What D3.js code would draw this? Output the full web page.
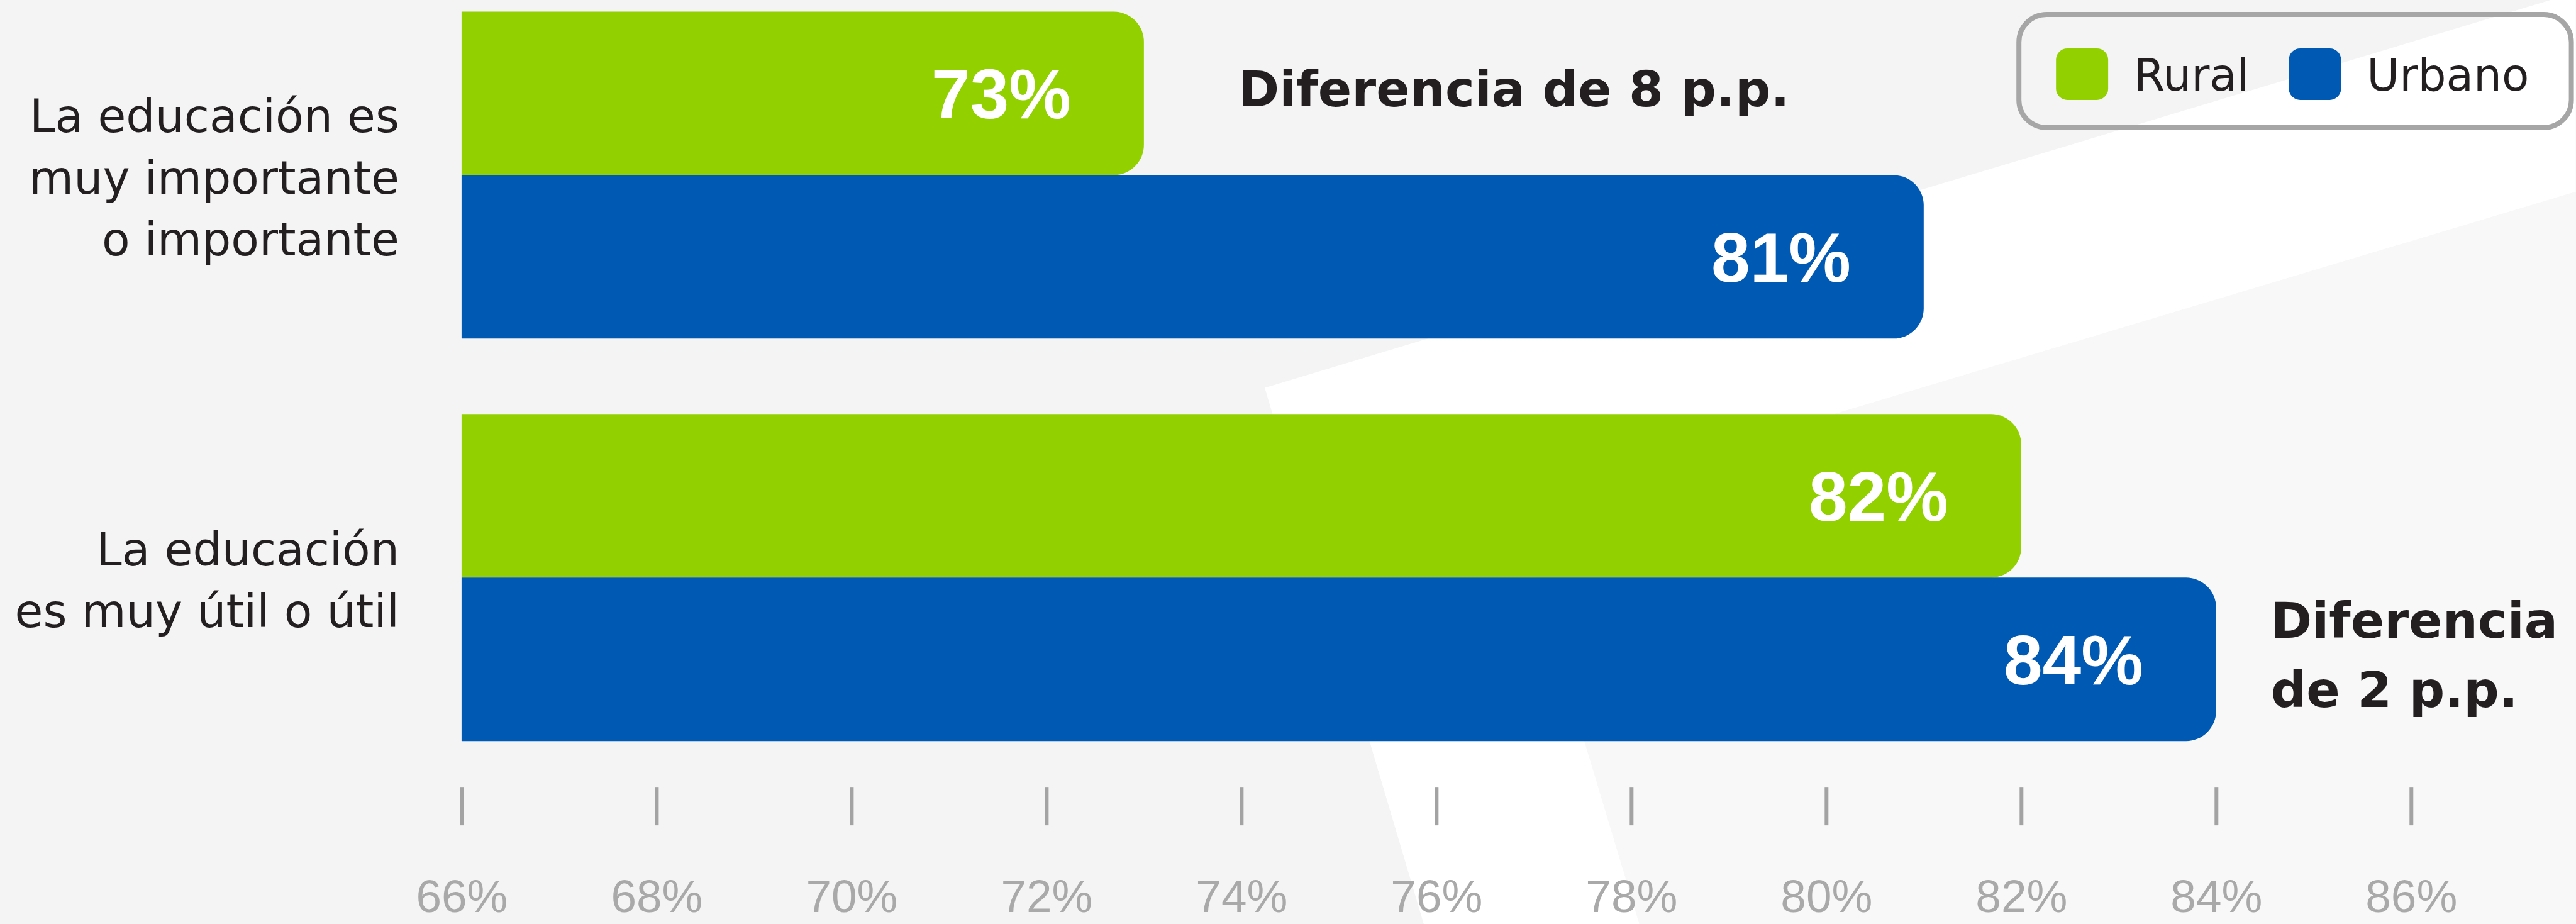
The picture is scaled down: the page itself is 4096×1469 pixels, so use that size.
<!DOCTYPE html>
<html>
<head>
<meta charset="utf-8">
<script src="https://cdn.jsdelivr.net/npm/d3@7"></script>
<style>
  html, body { margin: 0; padding: 0; background: #f4f4f4; overflow: hidden; }
  svg { display: block; }
</style>
</head>
<body>
<div id="chart"></div>
<script>
// data
const categories = ["La educación es muy importante o importante", "La educación es muy útil o útil"];
const labelLines = [
  ["La educación es", "muy importante", "o importante"],
  ["La educación", "es muy útil o útil"]
];
const seriesNames = ["Rural", "Urbano"];
const rural = [73, 82];
const urbano = [81, 84];
const tickValues = [66, 68, 70, 72, 74, 76, 78, 80, 82, 84, 86];
const notes = [["Diferencia de 8 p.p."], ["Diferencia", "de 2 p.p."]];
const noteSeries = ["Rural", "Urbano"];

const colors = { Rural: "#92d000", Urbano: "#0059b2" };
const ink = "#231f20";

// reference size, drawn at 0.999 through the viewBox
const W = 4098, H = 1470;

let svg = d3.select("#chart").append("svg")
    .attr("width", 4096)
    .attr("height", 1469)
    .attr("viewBox", "0 0 " + W + " " + H);

// background with the light band
svg.append("rect").attr("width", W).attr("height", H).attr("fill", "#f4f4f4");
svg.append("path")
    .attr("d", "M2410,811 L4098,305 L4098,1470 L2608,1470 Z")
    .attr("fill", "#f8f8f8");
svg.append("path")
    .attr("d", "M4058,0 L4098,0 L4098,305 L2410,811 L2608,1470 L2265,1470 L2012,617 Z")
    .attr("fill", "#ffffff");

// scales
let x = d3.scaleLinear().domain([66, 86]).range([734, 3836]);
let y = d3.scaleBand().domain(categories).range([18.5, 1179]).paddingInner(0.1875);
let ySub = d3.scaleBand().domain(seriesNames).range([0, y.bandwidth()]);

let rows = categories.map((c, i) => ({
  cat: c, lines: labelLines[i],
  values: [{ key: "Rural", v: rural[i] }, { key: "Urbano", v: urbano[i] }]
}));

function barPath(x0, y0, x1, y1, r) {
  return "M" + x0 + "," + y0 + " H" + (x1 - r) +
    " A" + r + "," + r + " 0 0 1 " + x1 + "," + (y0 + r) +
    " V" + (y1 - r) +
    " A" + r + "," + r + " 0 0 1 " + (x1 - r) + "," + y1 +
    " H" + x0 + " Z";
}

// bars
let groups = svg.selectAll(".row")
  .data(rows)
  .enter().append("g")
    .attr("class", "row")
    .attr("transform", d => "translate(0," + y(d.cat) + ")");

groups.selectAll(".bar")
  .data(d => d.values)
  .enter().append("path")
    .attr("class", "bar")
    .attr("fill", d => colors[d.key])
    .attr("d", d => barPath(x(66), ySub(d.key), x(d.v), ySub(d.key) + ySub.bandwidth(), 48));

// value labels
groups.selectAll(".val")
  .data(d => d.values)
  .enter().append("text")
    .attr("class", "val")
    .attr("x", d => x(d.v) - 116)
    .attr("y", d => ySub(d.key) + ySub.bandwidth() / 2 + 40)
    .attr("text-anchor", "end")
    .attr("fill", "#ffffff")
    .style("font-family", "'Liberation Sans', Arial, sans-serif")
    .style("font-weight", "bold")
    .style("font-size", "111px")
    .text(d => d.v + "%");

// category labels
groups.append("text")
    .attr("text-anchor", "end")
    .attr("fill", ink)
    .style("font-family", "'DejaVu Sans', sans-serif")
    .style("font-size", "73px")
  .selectAll("tspan")
  .data(d => d.lines.map((l, i) => ({ l: l, i: i, n: d.lines.length })))
  .enter().append("tspan")
    .attr("x", 635)
    .attr("y", d => y.bandwidth() / 2 + 30 + (d.i - (d.n - 1) / 2) * 98)
    .text(d => d.l);

// difference notes
const noteDx = [150, 87];
groups.each(function(d, i) {
  let key = noteSeries[i];
  let v = d.values.find(e => e.key === key).v;
  let cy = ySub(key) + ySub.bandwidth() / 2;
  let n = notes[i].length;
  d3.select(this).append("text")
      .attr("fill", ink)
      .style("font-family", "'DejaVu Sans', sans-serif")
      .style("font-weight", "bold")
      .style("font-size", "79px")
    .selectAll("tspan")
    .data(notes[i])
    .enter().append("tspan")
      .attr("x", x(v) + noteDx[i])
      .attr("y", (l, j) => cy + 21 + (j - (n - 1) / 2) * 110)
      .text(l => l);
});

// x axis
let axis = svg.append("g")
    .attr("transform", "translate(0,1252)")
    .call(d3.axisBottom(x)
      .tickValues(tickValues)
      .tickSize(61)
      .tickPadding(86)
      .tickFormat(d => d + "%"));
axis.select(".domain").remove();
axis.selectAll(".tick line")
    .attr("stroke", "#a3a3a3")
    .attr("stroke-width", 6);
axis.selectAll(".tick text")
    .attr("fill", "#a9a9a9")
    .style("font-family", "'Liberation Sans', Arial, sans-serif")
    .style("font-size", "73px");

// legend
let legend = svg.append("g").attr("class", "legend");
legend.append("rect")
    .attr("x", 3212).attr("y", 23)
    .attr("width", 879).attr("height", 180)
    .attr("rx", 44).attr("ry", 44)
    .attr("fill", "none")
    .attr("stroke", "#a6a6a6")
    .attr("stroke-width", 8);

let cursor = 3271;
seriesNames.forEach(function(s) {
  legend.append("rect")
      .attr("x", cursor).attr("y", 77)
      .attr("width", 83).attr("height", 82)
      .attr("rx", 18).attr("ry", 18)
      .attr("fill", colors[s]);
  let t = legend.append("text")
      .attr("x", cursor + 124).attr("y", 144)
      .attr("fill", ink)
      .style("font-family", "'DejaVu Sans', sans-serif")
      .style("font-size", "71px")
      .text(s);
  cursor = cursor + 124 + t.node().getComputedTextLength() + 63;
});
</script>
</body>
</html>
